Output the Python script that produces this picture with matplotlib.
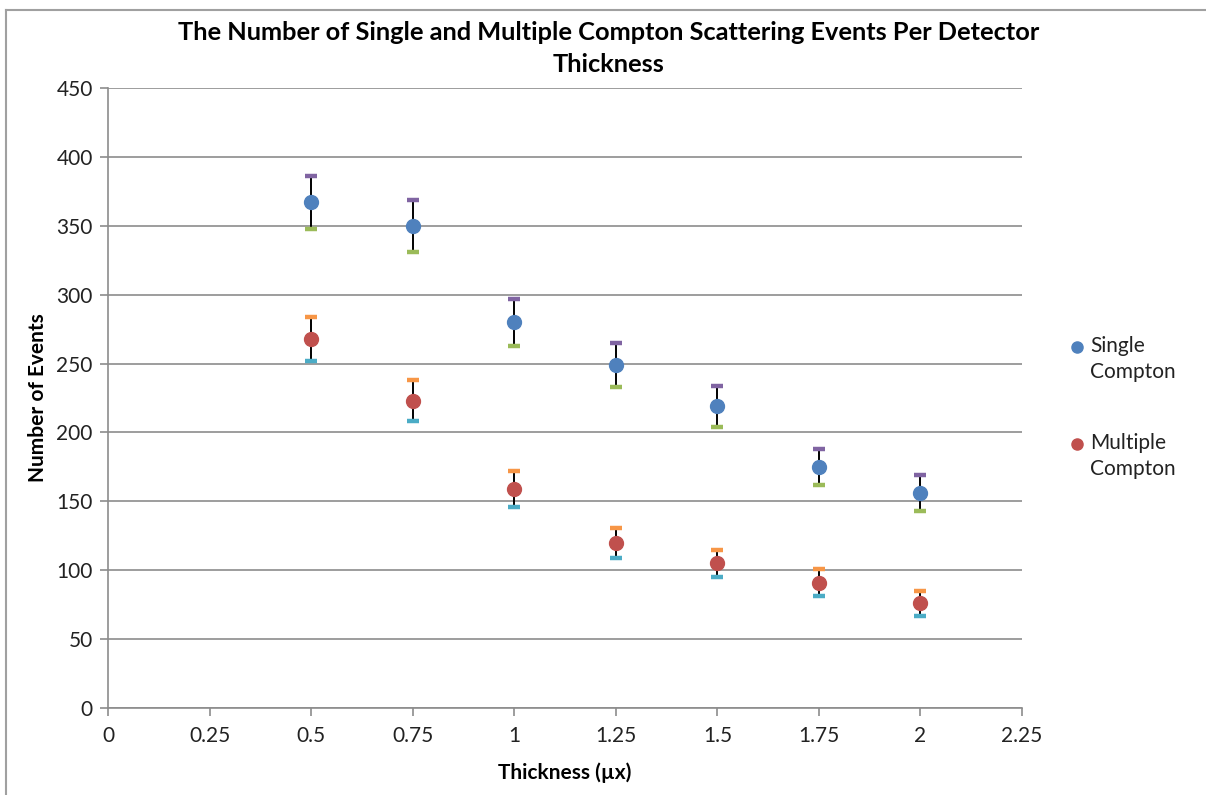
import matplotlib
matplotlib.use("Agg")
import matplotlib.pyplot as plt
from matplotlib.lines import Line2D

plt.rcParams['font.family'] = ['Lato', 'DejaVu Sans']

thickness = [0.5, 0.75, 1.0, 1.25, 1.5, 1.75, 2.0]
single = [367, 350, 280, 249, 219, 175, 156]
single_err = [19, 19, 17, 16, 15, 13, 13]
multiple = [268, 223, 159, 120, 105, 91, 76]
multiple_err = [16, 15, 13, 11, 10, 10, 9]
x_ticks = [0, 0.25, 0.5, 0.75, 1, 1.25, 1.5, 1.75, 2, 2.25]
x_ticklabels = ['0', '0.25', '0.5', '0.75', '1', '1.25', '1.5', '1.75', '2', '2.25']
y_ticks = list(range(0, 451, 50))
legend_labels = ['Single\nCompton', 'Multiple\nCompton']
colors = ['#4F81BD', '#C0504D']

fig = plt.figure(figsize=(12.06, 7.95), dpi=100)
ax = fig.add_axes([108/1206, 1-708/795, (1022-108)/1206, (708-88)/795])

grid_c = '#8c8c8c'
for yv in y_ticks:
    ax.axhline(yv, color=grid_c, lw=1.2, zorder=0)

def series(y, err, color, cap_hi, cap_lo):
    ax.vlines(thickness, [a - e for a, e in zip(y, err)], [a + e for a, e in zip(y, err)],
              color='black', lw=1.4, zorder=2)
    ax.plot(thickness, [a + e for a, e in zip(y, err)], ls='none', marker='_',
            ms=9, mew=3.2, color=cap_hi, zorder=3)
    ax.plot(thickness, [a - e for a, e in zip(y, err)], ls='none', marker='_',
            ms=9, mew=3.2, color=cap_lo, zorder=3)
    ax.plot(thickness, y, ls='none', marker='o', ms=10, color=color,
            mec=color, zorder=4)

series(single, single_err, colors[0], '#8064A2', '#9BBB59')
series(multiple, multiple_err, colors[1], '#F79646', '#4BACC6')

ax.set_xlim(0, 2.25)
ax.set_ylim(0, 450)
ax.set_xticks(x_ticks)
ax.set_xticklabels(x_ticklabels)
ax.set_yticks(y_ticks)
for s in ['top', 'right']:
    ax.spines[s].set_visible(False)
for s in ['left', 'bottom']:
    ax.spines[s].set_color(grid_c)
    ax.spines[s].set_linewidth(1.2)
ax.tick_params(axis='both', colors=grid_c, labelcolor='#222222', labelsize=15,
               length=6, width=1.2, direction='out')
ax.tick_params(axis='x', pad=7)
ax.tick_params(axis='y', pad=5)

ax.set_xlabel('Thickness (\u00b5x)', fontsize=15, fontweight='bold', labelpad=12)
ax.set_ylabel('Number of Events', fontsize=15, fontweight='bold', labelpad=6)
fig.text(609/1206, 1-48.5/795,
         'The Number of Single and Multiple Compton Scattering Events Per Detector\nThickness',
         ha='center', va='center', fontsize=18.3, fontweight='bold', linespacing=1.5)

# legend (drawn manually to match Excel layout)
leg_y = [347, 444]
for lab, col, yy in zip(legend_labels, colors, leg_y):
    fig.add_artist(Line2D([1077/1206], [1-yy/795], marker='o', ms=8, color=col,
                          mec=col, ls='none', transform=fig.transFigure))
    fig.text(1090/1206, 1-(yy-11)/795, lab, ha='left', va='top', fontsize=15,
             color='#222222', linespacing=1.35)

# chart border
fig.add_artist(Line2D([6/1206, 6/1206], [0, 1-10/795], color='#a0a0a0', lw=1.5,
                      transform=fig.transFigure))
fig.add_artist(Line2D([6/1206, 1], [1-10/795, 1-10/795], color='#a0a0a0', lw=1.5,
                      transform=fig.transFigure))

fig.savefig('out.png', dpi=100)
